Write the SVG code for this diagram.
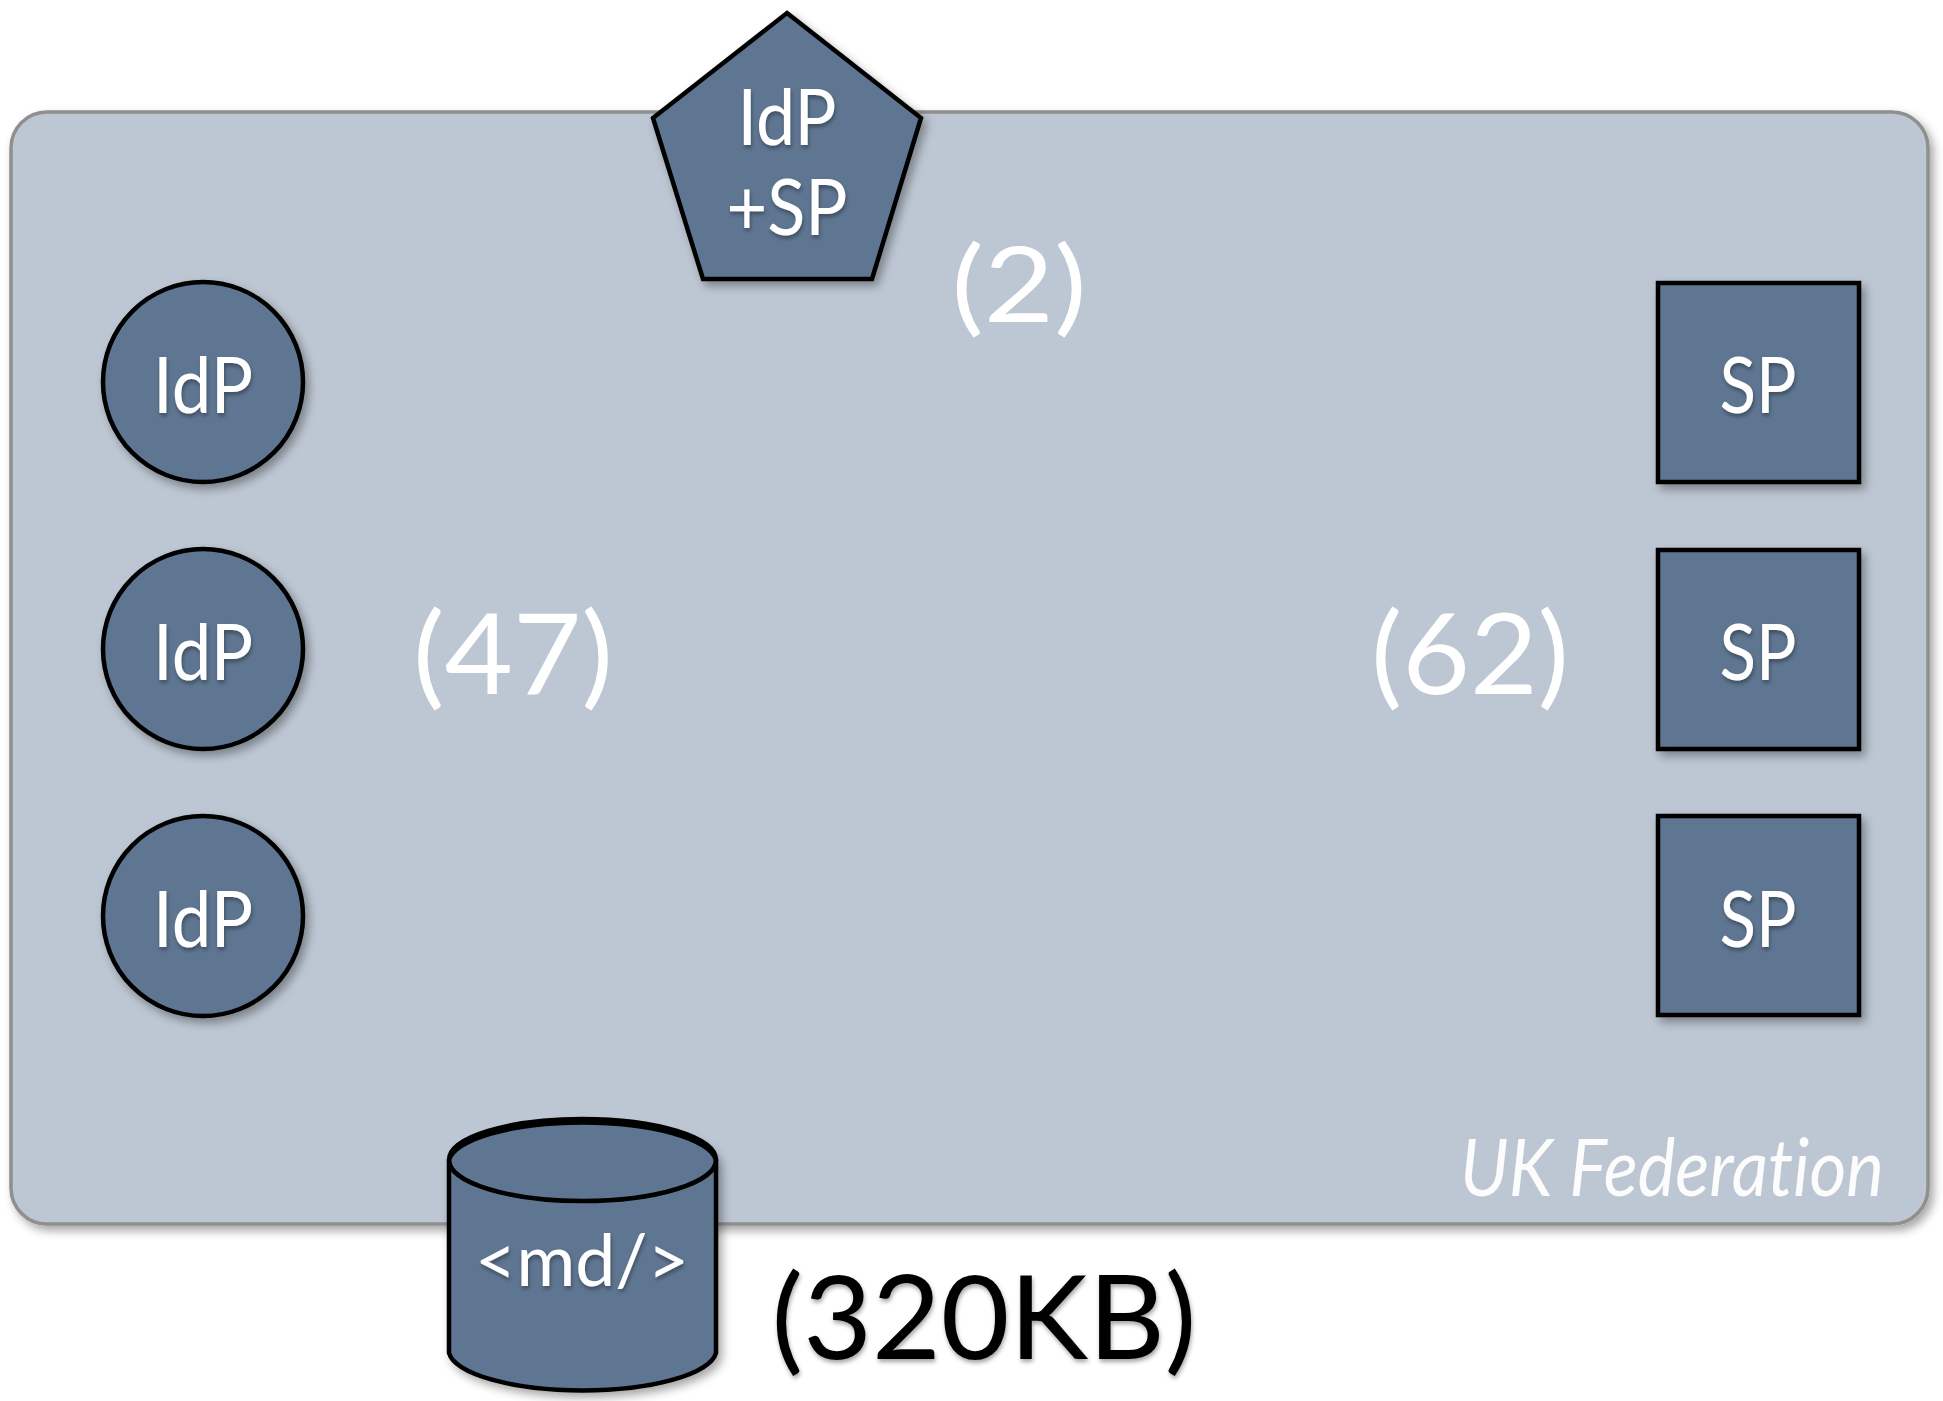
<svg xmlns="http://www.w3.org/2000/svg" width="1943" height="1401" viewBox="0 0 1943 1401">
  <defs>
    <filter id="shadow" x="-20%" y="-20%" width="150%" height="150%">
      <feDropShadow dx="4" dy="5" stdDeviation="5" flood-color="#000" flood-opacity="0.35"/>
    </filter>
    <filter id="tshadow" x="-10%" y="-10%" width="130%" height="140%">
      <feDropShadow dx="1" dy="3" stdDeviation="2" flood-color="#000" flood-opacity="0.35"/>
    </filter>
  </defs>
  <style>
    text { font-variant-ligatures: none; }
    .node { fill: #5e7692; stroke: #000; stroke-width: 4.5; }
    .lbl { font-family: Lato, "Open Sans", sans-serif; fill: #fff; text-anchor: middle; filter: url(#tshadow); }
    .count { font-family: Lato, "Open Sans", sans-serif; fill: #fff; text-anchor: middle; }
  </style>
  <rect width="1943" height="1401" fill="#fff"/>

  <!-- federation boundary -->
  <g id="federation">
    <rect x="11" y="112" width="1917" height="1112" rx="36" ry="36" fill="#bdc7d3" stroke="#8f8f8f" stroke-width="3.5" filter="url(#shadow)"/>
    <text x="1884" y="1196" font-family="Lato, 'Open Sans', sans-serif" font-style="italic" font-size="80" fill="#fff" fill-opacity="0.95" text-anchor="end" textLength="424" lengthAdjust="spacingAndGlyphs">UK Federation</text>
  </g>

  <!-- counts -->
  <text class="count" x="1019" y="322" font-size="104" textLength="135" lengthAdjust="spacingAndGlyphs">(2)</text>
  <text class="count" x="513" y="694" font-size="112" textLength="200" lengthAdjust="spacingAndGlyphs">(47)</text>
  <text class="count" x="1470" y="694" font-size="112" textLength="198" lengthAdjust="spacingAndGlyphs">(62)</text>

  <g id="idp-sp">
    <polygon class="node" points="787,13 921,118 872,279 703,279 653,118" filter="url(#shadow)"/>
    <text class="lbl" x="787" y="145" font-size="78" textLength="99" lengthAdjust="spacingAndGlyphs">IdP</text>
    <text class="lbl" x="787" y="235" font-size="78" textLength="121" lengthAdjust="spacingAndGlyphs">+SP</text>
  </g>

  <g id="idp1">
    <circle class="node" cx="203" cy="382" r="100" filter="url(#shadow)"/>
    <text class="lbl" x="203" y="413" font-size="78" textLength="100" lengthAdjust="spacingAndGlyphs">IdP</text>
  </g>
  <g id="idp2">
    <circle class="node" cx="203" cy="649" r="100" filter="url(#shadow)"/>
    <text class="lbl" x="203" y="680" font-size="78" textLength="100" lengthAdjust="spacingAndGlyphs">IdP</text>
  </g>
  <g id="idp3">
    <circle class="node" cx="203" cy="916" r="100" filter="url(#shadow)"/>
    <text class="lbl" x="203" y="947" font-size="78" textLength="100" lengthAdjust="spacingAndGlyphs">IdP</text>
  </g>

  <g id="sp1">
    <rect class="node" x="1658" y="283" width="201" height="199" filter="url(#shadow)"/>
    <text class="lbl" x="1758" y="413" font-size="78" textLength="77" lengthAdjust="spacingAndGlyphs">SP</text>
  </g>
  <g id="sp2">
    <rect class="node" x="1658" y="550" width="201" height="199" filter="url(#shadow)"/>
    <text class="lbl" x="1758" y="680" font-size="78" textLength="77" lengthAdjust="spacingAndGlyphs">SP</text>
  </g>
  <g id="sp3">
    <rect class="node" x="1658" y="816" width="201" height="199" filter="url(#shadow)"/>
    <text class="lbl" x="1758" y="947" font-size="78" textLength="77" lengthAdjust="spacingAndGlyphs">SP</text>
  </g>

  <g id="metadata">
    <path class="node" d="M449,1160 V1353 A134,41 0 0 0 716,1353 V1160 A134,41 0 0 0 449,1160 Z" filter="url(#shadow)"/>
    <ellipse cx="582.5" cy="1160" rx="133.5" ry="41" fill="none" stroke="#000" stroke-width="4.5"/>
    <text class="lbl" x="582" y="1286" font-size="72" textLength="214" lengthAdjust="spacingAndGlyphs">&lt;md/&gt;</text>
  </g>

  <text x="984" y="1359" font-family="Lato, 'Open Sans', sans-serif" font-size="116" fill="#000" text-anchor="middle" textLength="425" lengthAdjust="spacingAndGlyphs" filter="url(#tshadow)">(320KB)</text>

  <g id="connectors"/>
</svg>
